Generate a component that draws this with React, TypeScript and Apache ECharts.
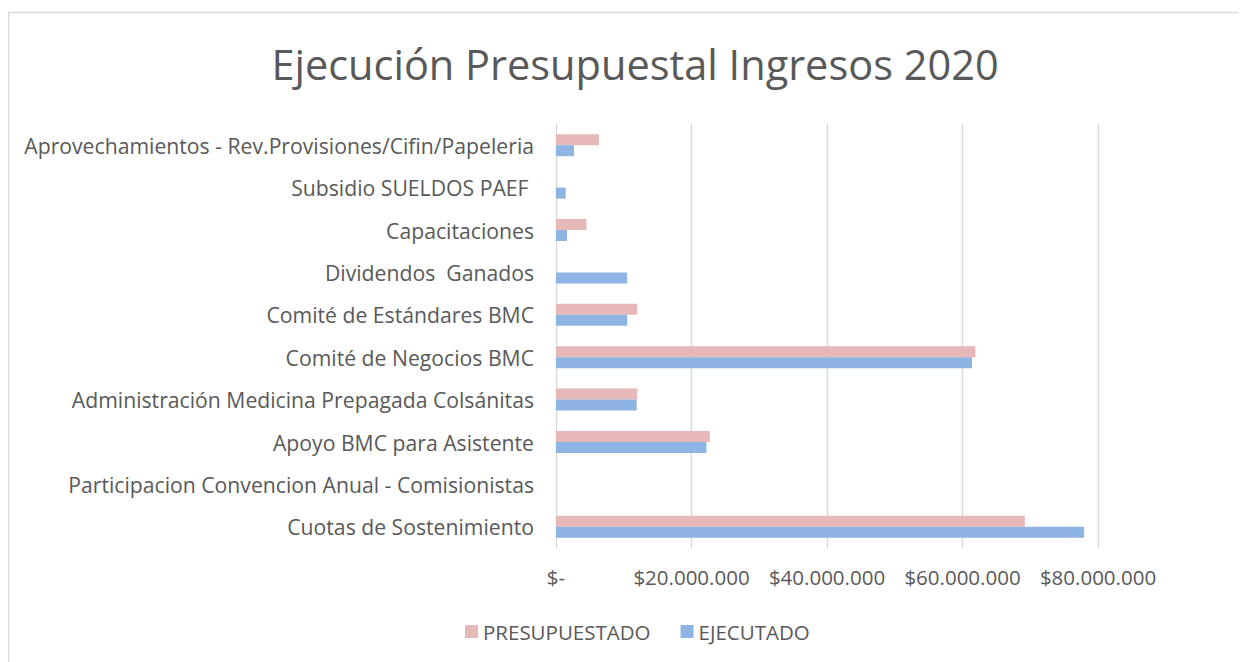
import React, { useEffect, useRef } from "react";
import * as echarts from "echarts";

const titleText = "Ejecución Presupuestal Ingresos 2020";

const categories = [
  "Cuotas de Sostenimiento",
  "Participacion Convencion Anual - Comisionistas",
  "Apoyo BMC para Asistente",
  "Administración Medicina Prepagada Colsánitas",
  "Comité de Negocios BMC",
  "Comité de Estándares BMC",
  "Dividendos  Ganados",
  "Capacitaciones",
  "Subsidio SUELDOS PAEF ",
  "Aprovechamientos - Rev.Provisiones/Cifin/Papeleria",
];

const presupuestado = [69200000, null, 22700000, 12000000, 61900000, 12000000, null, 4500000, null, 6350000];
const ejecutado = [77950000, null, 22200000, 11900000, 61400000, 10500000, 10500000, 1620000, 1430000, 2660000];

const tickLabels = ["$-", "$20.000.000", "$40.000.000", "$60.000.000", "$80.000.000"];
const tickStep = 20000000;

const FONT = "'Open Sans', 'Noto Sans', sans-serif";
const TXT = "#595959";
const GRID = "#D9D9D9";
const PINK = "#E6B9B8";
const BLUE = "#8EB4E3";
const FS = 20.5;

export default function App() {
  const ref = useRef<HTMLDivElement>(null);
  useEffect(() => {
    if (!ref.current) return;
    const chart = echarts.init(ref.current, null, { renderer: "svg" });
    chart.setOption({
      animation: false,
      backgroundColor: "#fff",
      textStyle: { fontFamily: FONT },
      graphic: [
        {
          type: "rect",
          shape: { x: 0.5, y: 4.5, width: 1400, height: 800 },
          style: { fill: "none", stroke: GRID, lineWidth: 1.5 },
          silent: true,
        },
        {
          type: "text",
          x: 627,
          y: 56,
          style: {
            text: titleText,
            font: `41.5px ${FONT}`,
            fill: TXT,
            align: "center",
            verticalAlign: "middle",
          },
        },
      ],
      legend: {
        data: ["PRESUPUESTADO", "EJECUTADO"],
        left: 452,
        top: 608,
        icon: "rect",
        itemWidth: 13,
        itemHeight: 13,
        itemGap: 30,
        textStyle: { color: TXT, fontSize: FS, fontFamily: FONT },
      },
      grid: { left: 548, right: 148, top: 116, bottom: 114, containLabel: false },
      xAxis: {
        type: "value",
        min: 0,
        max: 80000000,
        interval: tickStep,
        axisLine: { show: false },
        axisTick: { show: false },
        splitLine: { show: true, lineStyle: { color: GRID, width: 1.4 } },
        axisLabel: {
          color: TXT,
          fontSize: FS,
          fontFamily: FONT,
          margin: 18,
          formatter: (v: number) => tickLabels[Math.round(v / tickStep)] ?? "",
        },
      },
      yAxis: {
        type: "category",
        data: categories,
        axisLine: { show: false },
        axisTick: { show: false },
        axisLabel: { color: TXT, fontSize: 21.2, fontFamily: FONT, margin: 22 },
      },
      series: [
        {
          name: "PRESUPUESTADO",
          type: "bar",
          data: presupuestado,
          itemStyle: { color: PINK },
          barWidth: 11,
          barGap: "0%",
          barCategoryGap: "48%",
        },
        {
          name: "EJECUTADO",
          type: "bar",
          data: ejecutado,
          itemStyle: { color: BLUE },
          barWidth: 11,
          barGap: "0%",
          barCategoryGap: "48%",
        },
      ],
    });
    return () => chart.dispose();
  }, []);
  return <div ref={ref} style={{ width: 1238, height: 654 }} />;
}
